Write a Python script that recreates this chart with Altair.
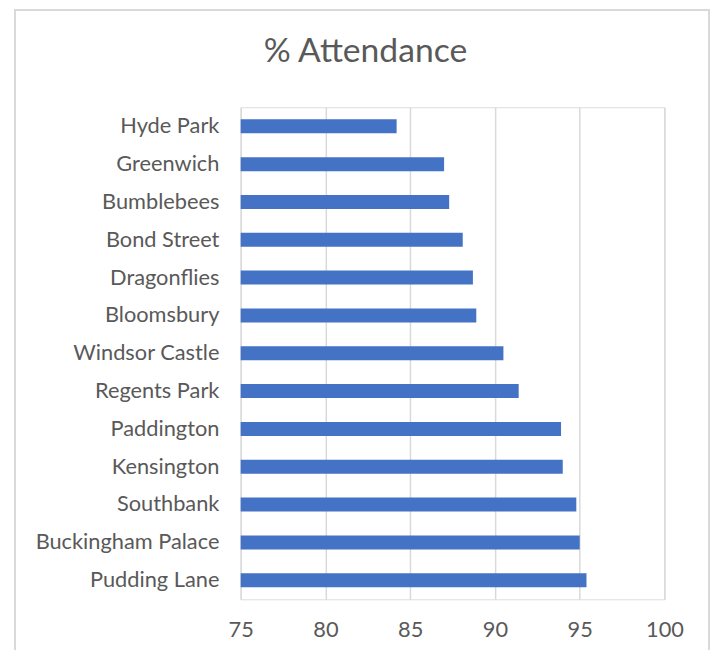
import altair as alt
import pandas as pd

sites = ["Hyde Park", "Greenwich", "Bumblebees", "Bond Street", "Dragonflies",
         "Bloomsbury", "Windsor Castle", "Regents Park", "Paddington",
         "Kensington", "Southbank", "Buckingham Palace", "Pudding Lane"]
attendance = [84.2, 87.0, 87.3, 88.1, 88.7, 88.9, 90.5, 91.4, 93.9, 94.0, 94.8, 95.0, 95.4]
x_ticks = [75, 80, 85, 90, 95, 100]

df = pd.DataFrame({"site": sites, "attendance": attendance})

FONT = "Lato"
GREY = "#595959"

bars = alt.Chart(df).mark_bar(color="#4472C4").encode(
    y=alt.Y("site:N", sort=sites, title=None,
            scale=alt.Scale(paddingInner=0.63, paddingOuter=0.32),
            axis=alt.Axis(domain=False, ticks=False, labelPadding=22, labelLimit=400,
                          labelFontSize=22, labelColor=GREY, labelFont=FONT)),
    x=alt.X("attendance:Q", title=None,
            scale=alt.Scale(domain=[75, 100], zero=False, nice=False),
            axis=alt.Axis(values=x_ticks, domain=False, ticks=False, labelFlush=False,
                          labelPadding=21, labelFontSize=22, labelColor=GREY,
                          labelFont=FONT, grid=True, gridColor="#d9d9d9",
                          gridWidth=1.5)),
    x2=alt.datum(75),
)

border = alt.Chart(df).mark_rect(fill="transparent", stroke="#d9d9d9", strokeWidth=1.5).encode(
    x=alt.value(-228), x2=alt.value(473),
    y=alt.value(-98), y2=alt.value(570),
)

chart = alt.layer(border, bars).properties(
    width=428, height=497,
    title=alt.TitleParams("% Attendance", fontSize=34, font=FONT, color=GREY,
                          fontWeight="normal", anchor="middle", baseline="alphabetic",
                          dx=-88, dy=87, offset=0),
    autosize=alt.AutoSizeParams(type="none"),
    padding={"left": 235, "top": 97, "right": 46, "bottom": 48},
).configure_view(strokeWidth=0).configure(background="white")

chart.save("out.html", embed_options={"renderer": "svg", "actions": False})
